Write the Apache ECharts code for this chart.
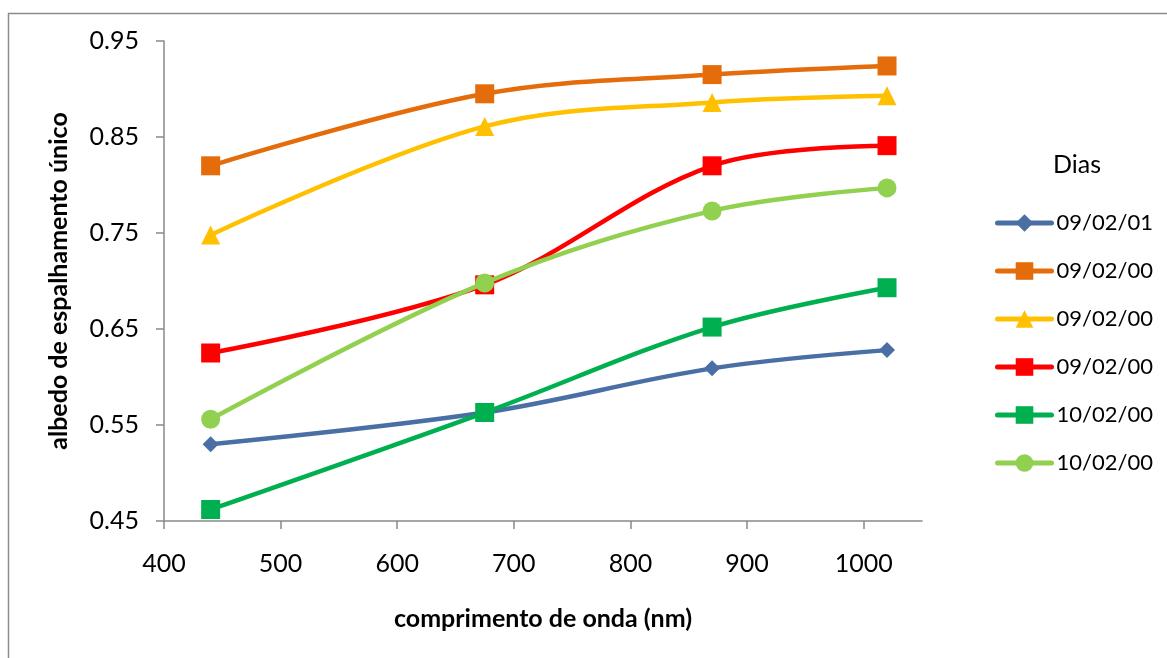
<!DOCTYPE html>
<html>
<head>
<meta charset="utf-8">
<script src="https://cdn.jsdelivr.net/npm/echarts@6/dist/echarts.min.js"></script>
<style>
html,body{margin:0;padding:0;background:#fff;}
#chart{width:1167px;height:658px;}
</style>
</head>
<body>
<div id="chart"></div>
<script>
var wavelengths = [440, 675, 870, 1020];
var seriesNames = ['09/02/01', '09/02/00', '09/02/00', '09/02/00', '10/02/00', '10/02/00'];
var s1 = [0.530, 0.563, 0.609, 0.628];
var s2 = [0.820, 0.895, 0.915, 0.924];
var s3 = [0.748, 0.861, 0.886, 0.893];
var s4 = [0.625, 0.696, 0.820, 0.841];
var s5 = [0.462, 0.563, 0.652, 0.693];
var s6 = [0.556, 0.698, 0.773, 0.797];
var xTicks = [400, 500, 600, 700, 800, 900, 1000];
var yTicks = [0.45, 0.55, 0.65, 0.75, 0.85, 0.95];

var allValues = [s1, s2, s3, s4, s5, s6];
var colors = ['#4A6FA5', '#E46C0A', '#FFC000', '#FF0000', '#00B050', '#92D050'];
var symbols = ['diamond', 'rect', 'triangle', 'rect', 'rect', 'circle'];
var symbolSizes = [16, 19, 19, 19, 19, 19];
var FONT = 'Lato, "Open Sans", sans-serif';

var chart = echarts.init(document.getElementById('chart'), null, {renderer: 'canvas'});

var series = allValues.map(function (vals, i) {
  return {
    name: seriesNames[i] + '\u200B'.repeat(i),
    type: 'line',
    smooth: 0.35,
    data: vals.map(function (v, j) { return [wavelengths[j], v]; }),
    symbol: symbols[i],
    symbolSize: symbolSizes[i],
    showAllSymbol: true,
    lineStyle: {color: colors[i], width: 4.5, cap: 'round'},
    itemStyle: {color: colors[i]},
    z: 2 + i,
    emphasis: {disabled: true}
  };
});

var option = {
  animation: false,
  backgroundColor: '#fff',
  textStyle: {fontFamily: FONT},
  graphic: [
    {type: 'rect', left: 6, top: 11, shape: {width: 1250, height: 800}, style: {fill: 'none', stroke: '#8C8C8C', lineWidth: 1.5}, silent: true, z: -1},
    {type: 'text', left: 1053, top: 152, style: {text: 'Dias', fontSize: 25, fontFamily: FONT, fill: '#000'}}
  ],
  grid: {left: 164, right: 245, top: 41, bottom: 137, containLabel: false},
  legend: {
    orient: 'vertical',
    left: 990,
    top: 206,
    itemWidth: 54,
    itemHeight: 22,
    itemGap: 24,
    lineStyle: {width: 5},
    textStyle: {fontSize: 22, lineHeight: 24, color: '#000', fontFamily: FONT},
    formatter: function (n) { return n.replace(/\u200B/g, ''); },
    data: series.map(function (s) { return s.name; })
  },
  xAxis: {
    type: 'value',
    min: 400,
    max: 1050,
    interval: 100,
    name: 'comprimento de onda (nm)',
    nameLocation: 'middle',
    nameGap: 85,
    nameTextStyle: {fontSize: 25, fontWeight: 'bold', color: '#000', fontFamily: FONT},
    axisLine: {show: true, lineStyle: {color: '#898989', width: 1.5}},
    axisTick: {show: true, length: 8, inside: false, lineStyle: {color: '#898989', width: 1.5}, customValues: xTicks},
    axisLabel: {fontSize: 25, color: '#000', margin: 30, customValues: xTicks, fontFamily: FONT,
      formatter: function (v) { return String(v); }},
    splitLine: {show: false}
  },
  yAxis: {
    type: 'value',
    min: 0.45,
    max: 0.95,
    interval: 0.1,
    name: 'albedo de espalhamento único',
    nameLocation: 'middle',
    nameGap: 93,
    nameTextStyle: {fontSize: 25, fontWeight: 'bold', color: '#000', fontFamily: FONT},
    axisLine: {show: true, lineStyle: {color: '#898989', width: 1.5}},
    axisTick: {show: true, length: 8, inside: false, lineStyle: {color: '#898989', width: 1.5}, customValues: yTicks},
    axisLabel: {fontSize: 25, color: '#000', margin: 25, customValues: yTicks, fontFamily: FONT,
      formatter: function (v) { return v.toFixed(2); }},
    splitLine: {show: false}
  },
  series: series
};
chart.setOption(option);
</script>
</body>
</html>
